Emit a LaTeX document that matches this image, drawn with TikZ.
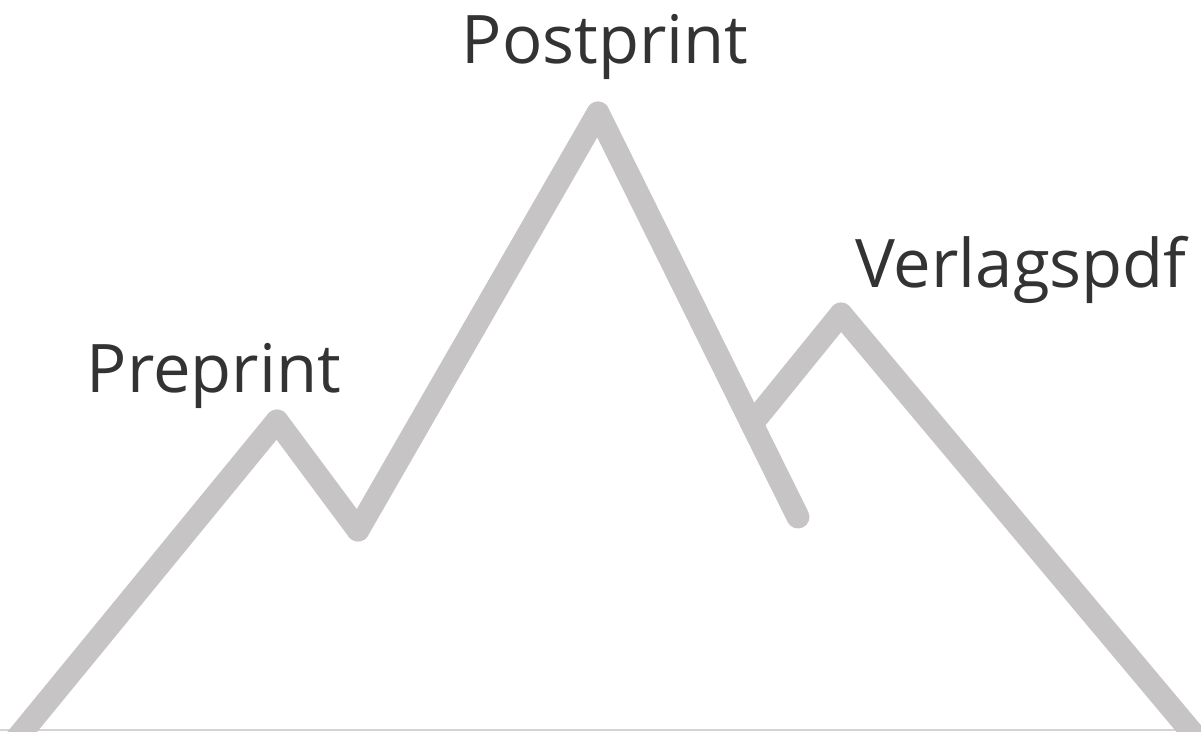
\documentclass[tikz,border=0pt]{standalone}
\usepackage{fontspec}
\setmainfont{Open Sans}
\begin{document}
\begin{tikzpicture}[x=1pt,y=-1pt,line cap=round]
\definecolor{custcol_c6_c4_c5}{RGB}{198, 196, 197}
\definecolor{custcol_d4_d4_d4}{RGB}{212, 212, 212}
\definecolor{custcol_33_33_33}{RGB}{51, 51, 51}
\tikzset{ridge/.style={line width=23.0pt, custcol_c6_c4_c5},
  peaklabel/.style={inner sep=0, outer sep=0, custcol_33_33_33, anchor=base, font=\fontsize{67pt}{67pt}\selectfont}}
\useasboundingbox (0.0,0.0) rectangle (1201.0,731.0);
\clip (0.0,0.0) rectangle (1201.0,731.0);
% peaks and valleys
\coordinate (footL) at (14.0,742.0);
\coordinate (pre) at (277.0,421.0);
\coordinate (dip) at (358.0,530.0);
\coordinate (post) at (598.0,113.0);
\coordinate (slopeEnd) at (798.0,517.0);
\coordinate (fork) at (755.0,420.0);
\coordinate (verlag) at (841.0,314.0);
\coordinate (footR) at (1200.0,742.0);
\draw [line width=2.0pt, custcol_d4_d4_d4] (0.0,730.0) -- (1201.0,730.0) ;
\draw [ridge] (footL) -- (pre) ;
\draw [ridge] (pre) -- (dip) ;
\draw [ridge] (dip) -- (post) ;
\draw [ridge] (post) -- (slopeEnd) ;
\draw [ridge] (fork) -- (verlag) ;
\draw [ridge] (verlag) -- (footR) ;
% labels
\node [peaklabel] (preText) at (214.0,392.0) {Preprint};
\node [peaklabel] (postText) at (605.0,63.0) {Postprint};
\node [peaklabel] (verlagText) at (1021.0,287.0) {Verlagspdf};
\end{tikzpicture}
\end{document}
